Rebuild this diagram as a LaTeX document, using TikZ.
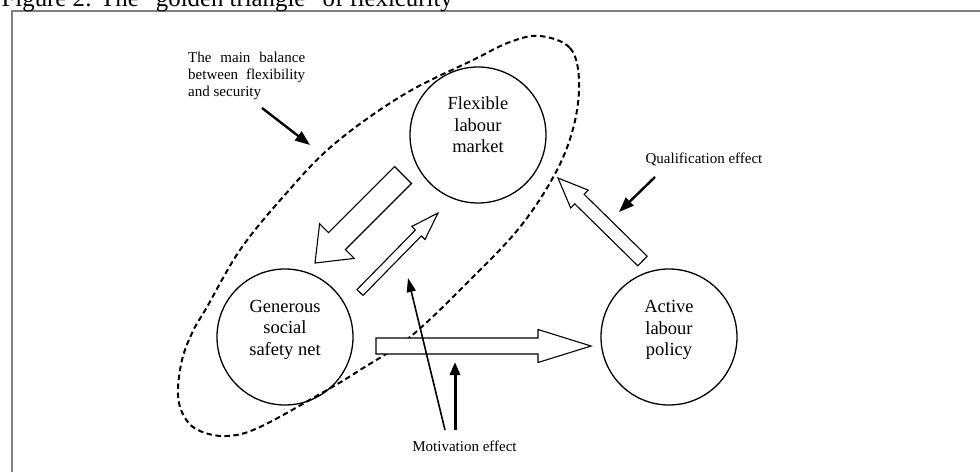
\documentclass[tikz,border=0pt]{standalone}
\usepackage{fontspec}
\setmainfont{Liberation Serif}
\usetikzlibrary{arrows.meta,calc}
% block arrow: #1 tail coordinate, #2 tip coordinate, #3 half shaft width, #4 half head width, #5 head length
\newcommand\blkarrow[5]{%
  \coordinate (ba-b) at ($(#2)!#5!(#1)$);
  \draw[blockarrow] ($(#1)!#3!90:(#2)$) -- ($(ba-b)!#3!-90:(#1)$) -- ($(ba-b)!#4!-90:(#1)$) -- (#2)
    -- ($(ba-b)!#4!90:(#1)$) -- ($(ba-b)!#3!90:(#1)$) -- ($(#1)!#3!-90:(#2)$) -- cycle;}
\begin{document}
\begin{tikzpicture}[x=1pt,y=-1pt,
  bubble/.style={circle,draw,line width=1.3pt,minimum size=136pt,inner sep=0pt},
  bubbletext/.style={font=\fontsize{18.5}{21.5}\selectfont,align=center,inner sep=0pt},
  blockarrow/.style={draw,fill=white,line width=1.1pt,line join=miter},
  pointer/.style={line width=2.4pt,-{Triangle[length=15pt,width=11pt]}},
  lbl/.style={font=\fontsize{15}{17}\selectfont,inner sep=0pt},
  frameline/.style={draw=black!50,line width=1.3pt},
  zone/.style={line width=2pt,dash pattern=on 5.5pt off 3.5pt}]
\useasboundingbox (0,0) rectangle (980,472);

% frame and title
\draw[frameline] (12,472) -- (12,11) -- (980,11);
\node[anchor=base west,inner sep=0pt,font=\fontsize{24.8}{28}\selectfont] (title) at (1.5,6.5)
  {Figure 2: The ”golden triangle” of flexicurity};

% dashed zone
\draw[zone] plot[smooth cycle,tension=0.6] coordinates {
  (540,36) (570,48) (579,80) (574,125) (556,172) (520,227) (467,283) (410,337)
  (360,370) (327,390) (260,427) (227,436) (200,431) (185,418) (178,395) (182,360)
  (193,331) (207,307) (240,250) (283,197) (333,145) (403,95) (473,60) (510,42)};

% circles
\node[bubble,label={[bubbletext,yshift=10pt]center:Flexible\\labour\\market}] (flex) at (478,135) {};
\node[bubble,label={[bubbletext,yshift=7.6pt]center:Generous\\social\\safety net}] (gen) at (285,337) {};
\node[bubble,label={[bubbletext,yshift=7pt]center:Active\\labour\\policy}] (act) at (669,337) {};

% block arrows
\coordinate (a1t) at (403,175); \coordinate (a1h) at (315,263);
\blkarrow{a1t}{a1h}{12pt}{24.5pt}{31pt}
\coordinate (a2t) at (360,292.5); \coordinate (a2h) at (438,213);
\blkarrow{a2t}{a2h}{4.2pt}{9.3pt}{28pt}
\coordinate (a3t) at (376,346); \coordinate (a3h) at (591,346);
\blkarrow{a3t}{a3h}{8pt}{16.5pt}{53pt}
\coordinate (a4t) at (642.5,261); \coordinate (a4h) at (558,178);
\blkarrow{a4t}{a4h}{6.7pt}{12.5pt}{30pt}

% labels
\node[lbl,anchor=base west,align=left] (balance) at (188,96.5)
  {\hbox to 117pt{The\hfil main\hfil balance}\\\hbox to 117pt{between\hfil flexibility}\\and security};
\node[lbl] (qual) at (704,159) {Qualification effect};
\node[lbl] (motiv) at (464.5,446) {Motivation effect};

% pointers
\coordinate (balS) at (262,108); \coordinate (balT) at (310,145);
\draw[pointer] (balS) -- (balT);
\coordinate (qualS) at (655,177); \coordinate (qualT) at (619,212);
\draw[pointer] (qualS) -- (qualT);
\coordinate (motS1) at (445,430); \coordinate (motT1) at (408,278);
\draw[line width=1.6pt,-{Triangle[length=14pt,width=9pt]}] (motS1) -- (motT1);
\coordinate (motS2) at (455,430); \coordinate (motT2) at (455,362);
\draw[line width=3pt,-{Triangle[length=13pt,width=10pt]}] (motS2) -- (motT2);
\end{tikzpicture}
\end{document}
